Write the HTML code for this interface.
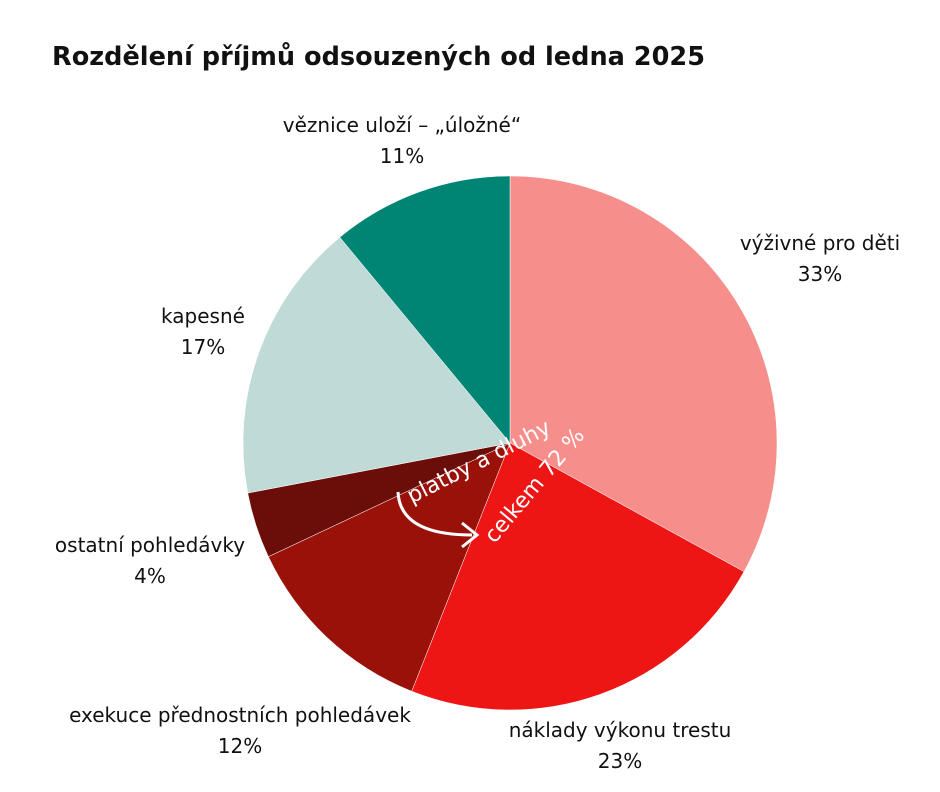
<!DOCTYPE html>
<html><head><meta charset="utf-8"><style>
body{margin:0;background:#fff;width:940px;height:788px;overflow:hidden;font-family:"DejaVu Sans","Liberation Sans",sans-serif}
</style></head><body>
<svg width="940" height="788">
<text x="52" y="65" font-size="26" font-weight="bold" fill="#111" textLength="653" lengthAdjust="spacingAndGlyphs">Rozdělení příjmů odsouzených od ledna 2025</text>
<g id="slices"></g>
<g id="labels" font-size="20" fill="#111" text-anchor="middle"></g>
<g fill="#fff" font-size="22">
<text transform="translate(482,468) rotate(-27)" text-anchor="middle">platby a dluhy</text>
<text transform="translate(540,490) rotate(-50)" text-anchor="middle">celkem 72 %</text>
<path d="M398,492 Q400,535 472,535" fill="none" stroke="#fff" stroke-width="3"/>
<path d="M462,523 L477,535 L462,547" fill="none" stroke="#fff" stroke-width="3"/>
</g>
</svg>
<script>
const categories=["výživné pro děti","náklady výkonu trestu","exekuce přednostních pohledávek","ostatní pohledávky","kapesné","věznice uloží – „úložné“"];
const values=[33,23,12,4,17,11];
const colors=["#f68e8c","#ee1515","#9a1109","#6b0d08","#c0dbd7","#008575"];
const labelPos=[[820,250],[620,737],[240,722],[150,552],[203,323],[402,132]];
const cx=510,cy=443,r=267;
const total=values.reduce((a,b)=>a+b,0);
const ns="http://www.w3.org/2000/svg";
const g=document.getElementById('slices'),lg=document.getElementById('labels');
let a=0;
values.forEach((v,i)=>{
 const a0=a/total*2*Math.PI; a+=v; const a1=a/total*2*Math.PI;
 const x0=cx+r*Math.sin(a0),y0=cy-r*Math.cos(a0),x1=cx+r*Math.sin(a1),y1=cy-r*Math.cos(a1);
 const p=document.createElementNS(ns,'path');
 p.setAttribute('d',`M${cx},${cy}L${x0},${y0}A${r},${r} 0 ${a1-a0>Math.PI?1:0} 1 ${x1},${y1}Z`);
 p.setAttribute('fill',colors[i]);p.setAttribute('stroke','#fff');p.setAttribute('stroke-width','0.5');
 
 
 g.appendChild(p);
 const t=document.createElementNS(ns,'text');
 t.setAttribute('x',labelPos[i][0]);t.setAttribute('y',labelPos[i][1]);
 
 
 const s1=document.createElementNS(ns,'tspan');s1.setAttribute('x',labelPos[i][0]);s1.textContent=categories[i];
 const s2=document.createElementNS(ns,'tspan');s2.setAttribute('x',labelPos[i][0]);s2.setAttribute('dy','31');s2.textContent=v+'%';
 t.appendChild(s1);t.appendChild(s2);lg.appendChild(t);
});
</script>
</body></html>
